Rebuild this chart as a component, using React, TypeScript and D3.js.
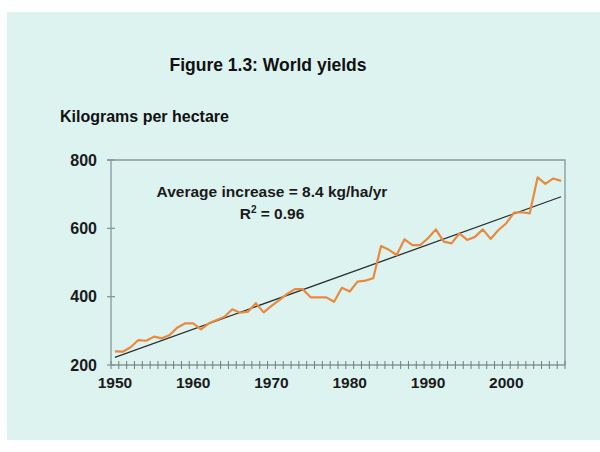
import { useEffect, useRef } from 'react';
import * as d3 from 'd3';

// World cereal yields, kg per hectare, 1950-2007
const years = d3.range(1950, 2008);
const yields = [
  240, 239, 252, 273, 271, 283, 278, 288, 310, 322,
  322, 304, 322, 332, 341, 363, 353, 356, 381, 354,
  373, 390, 408, 422, 422, 398, 398, 398, 385, 426,
  415, 444, 447, 454, 548, 537, 522, 568, 551, 551,
  571, 597, 561, 556, 585, 566, 575, 597, 569, 595,
  615, 646, 647, 644, 749, 730, 746, 739,
];
const yTicks = [200, 400, 600, 800];
const xLabelYears = [1950, 1960, 1970, 1980, 1990, 2000];

const title = 'Figure 1.3: World yields';
const yTitle = 'Kilograms per hectare';
const noteLine1 = 'Average increase = 8.4 kg/ha/yr';

const FONT = '"Liberation Sans", Arial, Helvetica, sans-serif';

export default function App() {
  const svgRef = useRef<SVGSVGElement>(null);

  useEffect(() => {
    if (!svgRef.current) return;
    const svg = d3.select(svgRef.current);
    svg.selectAll('*').remove();

    const width = 600;
    const height = 452;
    const plot = { left: 111, right: 565, top: 160, bottom: 365 };
    const axisColor = '#87979a';

    svg.attr('width', width).attr('height', height);

    // panel background
    svg.append('rect')
      .attr('x', 7).attr('y', 12)
      .attr('width', width - 7).attr('height', 428)
      .attr('fill', '#ddf3f0');

    // category axis (Excel style: one band per year)
    const x = d3.scaleBand<number>()
      .domain(years)
      .range([plot.left, plot.right]);
    const y = d3.scaleLinear()
      .domain([200, 800])
      .range([plot.bottom, plot.top]);

    const xc = (yr: number) => x(yr)! + x.bandwidth() / 2;

    // frame: top and right edges
    svg.append('path')
      .attr('d', `M${plot.left - 4},${plot.top}H${plot.right}V${plot.bottom}`)
      .attr('fill', 'none')
      .attr('stroke', axisColor)
      .attr('stroke-width', 1.3);

    // axes lines
    svg.append('line')
      .attr('x1', plot.left).attr('x2', plot.left)
      .attr('y1', plot.top).attr('y2', plot.bottom)
      .attr('stroke', axisColor).attr('stroke-width', 1.3);
    svg.append('line')
      .attr('x1', plot.left).attr('x2', plot.right)
      .attr('y1', plot.bottom).attr('y2', plot.bottom)
      .attr('stroke', axisColor).attr('stroke-width', 1.3);

    // x ticks between categories, crossing the axis
    const boundaries = years.map(yr => x(yr)!).concat([plot.right]);
    svg.append('g')
      .selectAll('line')
      .data(boundaries)
      .join('line')
      .attr('x1', d => d).attr('x2', d => d)
      .attr('y1', plot.bottom - 4).attr('y2', plot.bottom + 4)
      .attr('stroke', '#6f7f80').attr('stroke-width', 1);

    // y ticks crossing the axis
    svg.append('g')
      .selectAll('line')
      .data(yTicks)
      .join('line')
      .attr('x1', plot.left - 4).attr('x2', plot.left + 4)
      .attr('y1', d => y(d)).attr('y2', d => y(d))
      .attr('stroke', axisColor).attr('stroke-width', 1.3);

    // y labels
    svg.append('g')
      .selectAll('text')
      .data(yTicks)
      .join('text')
      .attr('x', 97)
      .attr('y', d => y(d))
      .attr('dy', '0.36em')
      .attr('text-anchor', 'end')
      .style('font', `bold 16px ${FONT}`)
      .style('fill', '#1a1a1a')
      .text(d => d);

    // x labels
    svg.append('g')
      .selectAll('text')
      .data(xLabelYears)
      .join('text')
      .attr('x', d => xc(d))
      .attr('y', 388)
      .attr('text-anchor', 'middle')
      .style('font', `bold 15.5px ${FONT}`)
      .style('fill', '#1a1a1a')
      .text(d => d);

    // least squares trend line
    const n = years.length;
    const mx = d3.mean(years)!;
    const my = d3.mean(yields)!;
    const sxy = d3.sum(years, (yr, i) => (yr - mx) * (yields[i] - my));
    const sxx = d3.sum(years, yr => (yr - mx) ** 2);
    const slope = sxy / sxx;
    const icpt = my - slope * mx;
    const first = years[0];
    const last = years[n - 1];

    svg.append('line')
      .attr('x1', xc(first)).attr('y1', y(icpt + slope * first))
      .attr('x2', xc(last)).attr('y2', y(icpt + slope * last))
      .attr('stroke', '#2b2f2f')
      .attr('stroke-width', 1.3);

    // yields series
    const line = d3.line<number>()
      .x((_, i) => xc(years[i]))
      .y(d => y(d));

    svg.append('path')
      .datum(yields)
      .attr('d', line)
      .attr('fill', 'none')
      .attr('stroke', '#ea893d')
      .attr('stroke-width', 2.2)
      .attr('stroke-linejoin', 'round');

    // titles
    svg.append('text')
      .attr('x', 268).attr('y', 71)
      .attr('text-anchor', 'middle')
      .style('font', `bold 17.5px ${FONT}`)
      .style('fill', '#111')
      .text(title);

    svg.append('text')
      .attr('x', 60).attr('y', 122)
      .style('font', `bold 16px ${FONT}`)
      .style('fill', '#111')
      .text(yTitle);

    // annotation
    svg.append('text')
      .attr('x', 272).attr('y', 197)
      .attr('text-anchor', 'middle')
      .style('font', `bold 15.5px ${FONT}`)
      .style('fill', '#1a1a1a')
      .text(noteLine1);

    const r2 = svg.append('text')
      .attr('x', 272).attr('y', 219)
      .attr('text-anchor', 'middle')
      .style('font', `bold 15.5px ${FONT}`)
      .style('fill', '#1a1a1a');
    r2.append('tspan').text('R');
    r2.append('tspan').attr('dy', -6).style('font-size', '10px').text('2');
    r2.append('tspan').attr('dy', 6).text(' = 0.96');
  }, []);

  return (
    <div style={{ position: 'absolute', left: 0, top: 0, background: '#fff' }}>
      <svg ref={svgRef} style={{ display: 'block' }} />
    </div>
  );
}
